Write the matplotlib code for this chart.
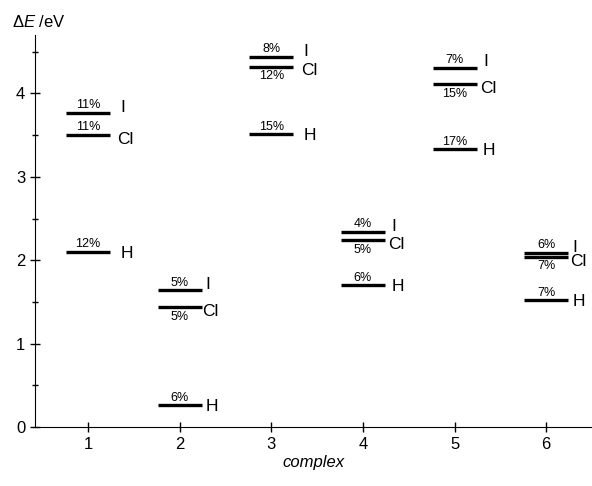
import numpy as np
import matplotlib.pyplot as plt

plt.rcParams['font.family'] = ['Liberation Sans', 'DejaVu Sans']
plt.rcParams['mathtext.fontset'] = 'custom'
plt.rcParams['mathtext.rm'] = 'Liberation Sans'
plt.rcParams['mathtext.it'] = 'Liberation Sans:italic'

# energies (eV) for each complex
complexes = [1, 2, 3, 4, 5, 6]
e_I = [3.77, 1.64, 4.44, 2.34, 4.31, 2.09]
e_Cl = [3.50, 1.44, 4.32, 2.24, 4.11, 2.04]
e_H = [2.10, 0.26, 3.51, 1.70, 3.33, 1.52]
pct_I = ['11%', '5%', '8%', '4%', '7%', '6%']
pct_Cl = ['11%', '5%', '12%', '5%', '15%', '7%']
pct_H = ['12%', '6%', '15%', '6%', '17%', '7%']

# layout tweaks
half_w = 0.24
gap = [0.11, 0.04, 0.11, 0.07, 0.07, 0.05]
cl_pct_above = [True, False, False, False, False, False]

fig = plt.figure(figsize=(5.92, 4.86), dpi=100)
ax = fig.add_axes([0.059, 0.121, 0.941, 0.807])

x = np.array(complexes)
for e in (e_I, e_Cl, e_H):
    ax.hlines(e, x - half_w, x + half_w, color='black', lw=2.4)

for i, c in enumerate(complexes):
    xr = c + half_w + gap[i]
    ax.annotate('I', (xr, e_I[i]), xytext=(0, 4), textcoords='offset points',
                ha='left', va='center', fontsize=12.5)
    ax.annotate('Cl', (xr - 0.03, e_Cl[i]), xytext=(0, -3), textcoords='offset points',
                ha='left', va='center', fontsize=12.5)
    ax.annotate('H', (xr, e_H[i]), xytext=(0, -1), textcoords='offset points',
                ha='left', va='center', fontsize=12.5)
    ax.annotate(pct_I[i], (c, e_I[i]), xytext=(0, 1.2), textcoords='offset points',
                ha='center', va='bottom', fontsize=9)
    if cl_pct_above[i]:
        ax.annotate(pct_Cl[i], (c, e_Cl[i]), xytext=(0, 1.2), textcoords='offset points',
                    ha='center', va='bottom', fontsize=9)
    else:
        ax.annotate(pct_Cl[i], (c, e_Cl[i]), xytext=(0, -2.5), textcoords='offset points',
                    ha='center', va='top', fontsize=9)
    ax.annotate(pct_H[i], (c, e_H[i]), xytext=(0, 1.2), textcoords='offset points',
                ha='center', va='bottom', fontsize=9)

ax.set_xlim(0.42, 6.5)
ax.set_ylim(0, 4.7)
ax.set_xticks(complexes)
ax.set_yticks([0, 1, 2, 3, 4])
ax.set_yticks(np.arange(0.5, 4.6, 1.0), minor=True)
ax.tick_params(axis='both', which='major', direction='inout', length=7, width=1, labelsize=12)
ax.tick_params(axis='y', which='minor', direction='inout', length=4, width=1)
ax.spines['top'].set_visible(False)
ax.spines['right'].set_visible(False)
ax.set_xlabel('complex', fontstyle='italic', fontsize=12, labelpad=2)
fig.text(0.02, 0.955, r'$\Delta\mathit{E}$ /eV', fontsize=12, ha='left', va='center')

fig.savefig('out.png', dpi=100)
